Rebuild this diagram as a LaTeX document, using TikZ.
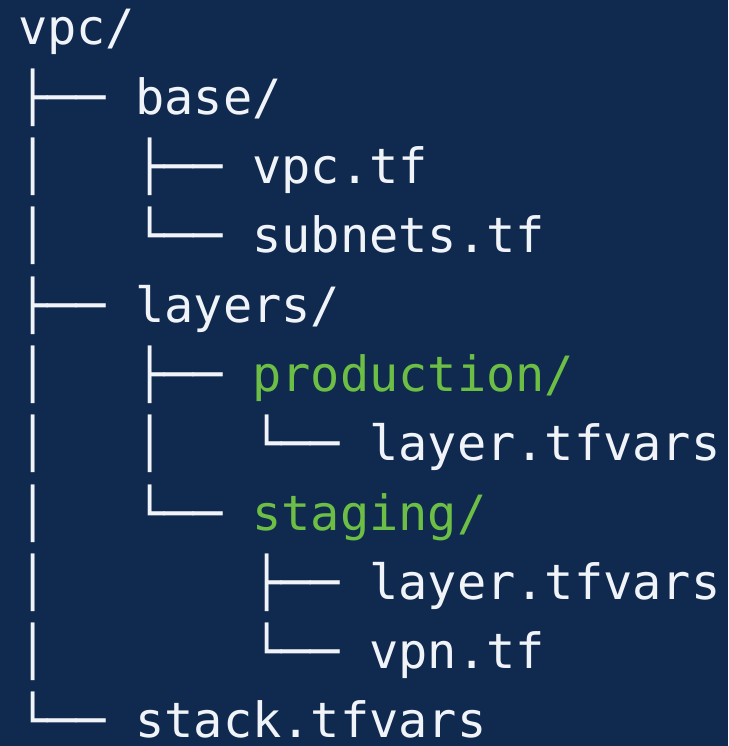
\documentclass[tikz,border=0pt]{standalone}
\usepackage{fontspec}
\setmonofont{DejaVu Sans Mono}
\definecolor{bg}{HTML}{10294F}
\definecolor{fg}{HTML}{F0F4F8}
\definecolor{grn}{HTML}{6DBE45}
\begin{document}
\begin{tikzpicture}[x=1pt,y=-1pt]
\tikzset{ln/.style={anchor=base west, inner sep=0pt, text=fg, font=\ttfamily\fontsize{48.6}{48.6}\selectfont}}
\fill[bg] (0,0) rectangle (728,746);
\useasboundingbox (0,0) rectangle (728,746);
\node[ln] (l0) at (18,45.0) {vpc/};
\node[ln] (l1) at (18,114.3) {├──~base/};
\node[ln] (l2) at (18,183.6) {│~~~├──~vpc.tf};
\node[ln] (l3) at (18,252.9) {│~~~└──~subnets.tf};
\node[ln] (l4) at (18,322.2) {├──~layers/};
\node[ln] (l5) at (18,391.5) {│~~~├──~\textcolor{grn}{production/}};
\node[ln] (l6) at (18,460.8) {│~~~│~~~└──~layer.tfvars};
\node[ln] (l7) at (18,530.1) {│~~~└──~\textcolor{grn}{staging/}};
\node[ln] (l8) at (18,599.4) {│~~~~~~~├──~layer.tfvars};
\node[ln] (l9) at (18,668.7) {│~~~~~~~└──~vpn.tf};
\node[ln] (l10) at (18,737.0) {└──~stack.tfvars};
\end{tikzpicture}
\end{document}
